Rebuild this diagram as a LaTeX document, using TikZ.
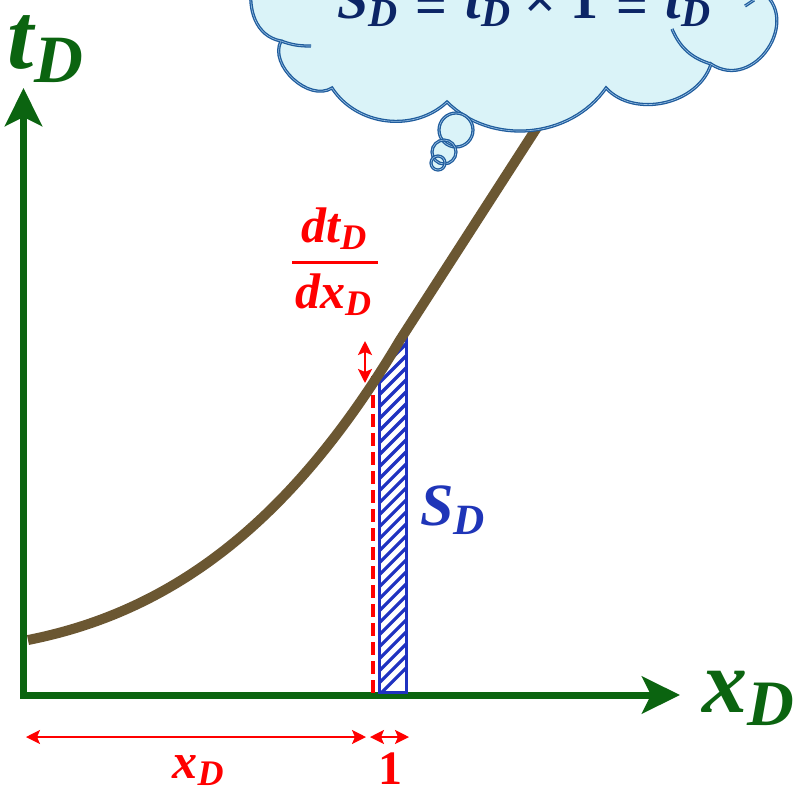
\documentclass[tikz,border=0pt]{standalone}
\usepackage{fontspec}
\usepackage{graphicx}
\setmainfont{Liberation Serif}
\usetikzlibrary{arrows.meta}
\definecolor{axgreen}{HTML}{0B6410}
\definecolor{curvebrown}{HTML}{6B5732}
\definecolor{stripblue}{HTML}{1F32C0}
\definecolor{sdblue}{HTML}{1F35B8}
\definecolor{cloudfill}{HTML}{DAF3F8}
\definecolor{cloudline}{HTML}{1F5C9C}
\definecolor{cloudinner}{HTML}{9CC3E6}
\definecolor{navy}{HTML}{0C2566}
\newcommand{\vs}[2]{{\bfseries\itshape #1\raisebox{-0.15em}{\scalebox{0.72}{#2}}}}
\newcommand{\loweq}{\raisebox{-0.12em}{=}}
\begin{document}
\begin{tikzpicture}[x=1pt,y=-1pt,
  axis/.style={draw=axgreen,line width=7pt,
     {Stealth[length=38pt,width=37pt,inset=9pt]}-{Stealth[length=38pt,width=37pt,inset=9pt]}},
  redarrow/.style={draw=red,line width=2pt,
     {Stealth[length=14pt,width=14pt,inset=3pt]}-{Stealth[length=14pt,width=14pt,inset=3pt]}},
  cloudborder/.style={draw=cloudline,line width=1.3pt,double=cloudinner,double distance=0.6pt},
  lbl/.style={inner sep=0pt,outer sep=0pt}]
\useasboundingbox (0,0) rectangle (798,793);
\clip (0,0) rectangle (798,793);

% axes
\coordinate (ytip) at (23.5,88);
\coordinate (orig) at (23.5,695);
\coordinate (xtip) at (680,695);
\draw[axis] (ytip) -- (orig) -- (xtip);

% strip hatching
\coordinate (sbl) at (379,692);
\coordinate (stl) at (379,378);
\coordinate (str) at (406,336);
\coordinate (sbr) at (406,692);
\begin{scope}
  \clip (sbl) -- (stl) -- (str) -- (sbr) -- cycle;
  \foreach \i in {0,...,34}{
    \draw[stripblue,line width=3.2pt] (370,{704-12*\i}) -- ++(45,-45);
  }
\end{scope}
\draw[stripblue,line width=3pt] (stl) -- (sbl) -- (sbr) -- (str);

% red dashed line
\coordinate (dtop) at (373,376);
\coordinate (dbot) at (373,694);
\draw[red,line width=4pt,dash pattern=on 13pt off 6pt] (dtop) -- (dbot);

% curve
\coordinate (c0) at (28,640);
\coordinate (c1) at (400,340);
\coordinate (c2) at (565,84);
\draw[curvebrown,line width=10pt] (c0) .. controls (170,612) and (290,525) .. (c1) -- (c2);

% small red arrow
\coordinate (ra) at (365,341);
\coordinate (rb) at (365,383);
\draw[redarrow,line width=2.5pt] (ra) -- (rb);

% bottom red arrows
\coordinate (b0) at (26,737);
\coordinate (b1) at (366,737);
\coordinate (b2) at (370,737);
\coordinate (b3) at (409,737);
\draw[redarrow] (b0) -- (b1);
\draw[redarrow] (b2) -- (b3);

% cloud
\path[fill=cloudfill,cloudborder] (300,-60) to[bend right=90,looseness=1.3] (281,41)
   to[bend right=75] (332,88) to[bend right=50] (447,102) to[bend right=50] (606,88)
   to[bend right=60] (711,64) to[bend right=90,looseness=1.5] (760,-10)
   -- (760,-90) -- (300,-90) -- cycle;
\draw[cloudborder] (281,41) to[bend right=10] (311,46);
\draw[cloudborder] (711,64) to[bend left=25] (672,29);
\draw[cloudborder] (745,6) -- (754,0);
% bubbles
\fill[cloudfill] (456,130) circle (17);
\fill[cloudfill] (444,152) circle (12);
\fill[cloudfill] (438,163) circle (7);
\draw[cloudborder] (456,130) circle (17);
\draw[cloudborder] (444,152) circle (12);
\draw[cloudborder] (438,163) circle (7);

% texts
\node[lbl,anchor=base west,text=axgreen,font=\fontsize{94}{100}\selectfont] (tD) at (8,68) {\vs{t}{D}};
\node[lbl,anchor=base west,text=axgreen,font=\fontsize{90}{100}\selectfont] (xD) at (702,712) {\vs{x}{D}};
\node[lbl,anchor=base west,text=sdblue,font=\fontsize{60}{64}\selectfont] (SD) at (420,525) {\vs{S}{D}};
\node[lbl,anchor=base,text=red,font=\fontsize{50}{54}\selectfont] (num) at (334,242) {\vs{dt}{D}};
\node[lbl,anchor=base,text=red,font=\fontsize{50}{54}\selectfont] (den) at (333,308) {\vs{dx}{D}};
\coordinate (barL) at (292,262);
\coordinate (barR) at (378,262);
\draw[red,line width=3pt] (barL) -- (barR);
\node[lbl,anchor=base,text=red,font=\fontsize{50}{54}\selectfont] (xDb) at (198,778) {\vs{x}{D}};
\node[lbl,anchor=base,text=red,font=\fontsize{48}{52}\selectfont\bfseries] (one) at (390,784) {1};
\node[lbl,anchor=base,text=navy,font=\fontsize{56}{60}\selectfont\bfseries] (eq) at (524,18)
  {\vs{S}{D}\hspace{0.32em}\loweq\hspace{0.32em}\vs{t}{D}\hspace{0.25em}×\hspace{0.25em}1\hspace{0.32em}\loweq\hspace{0.32em}\vs{t}{D}};
\end{tikzpicture}
\end{document}
